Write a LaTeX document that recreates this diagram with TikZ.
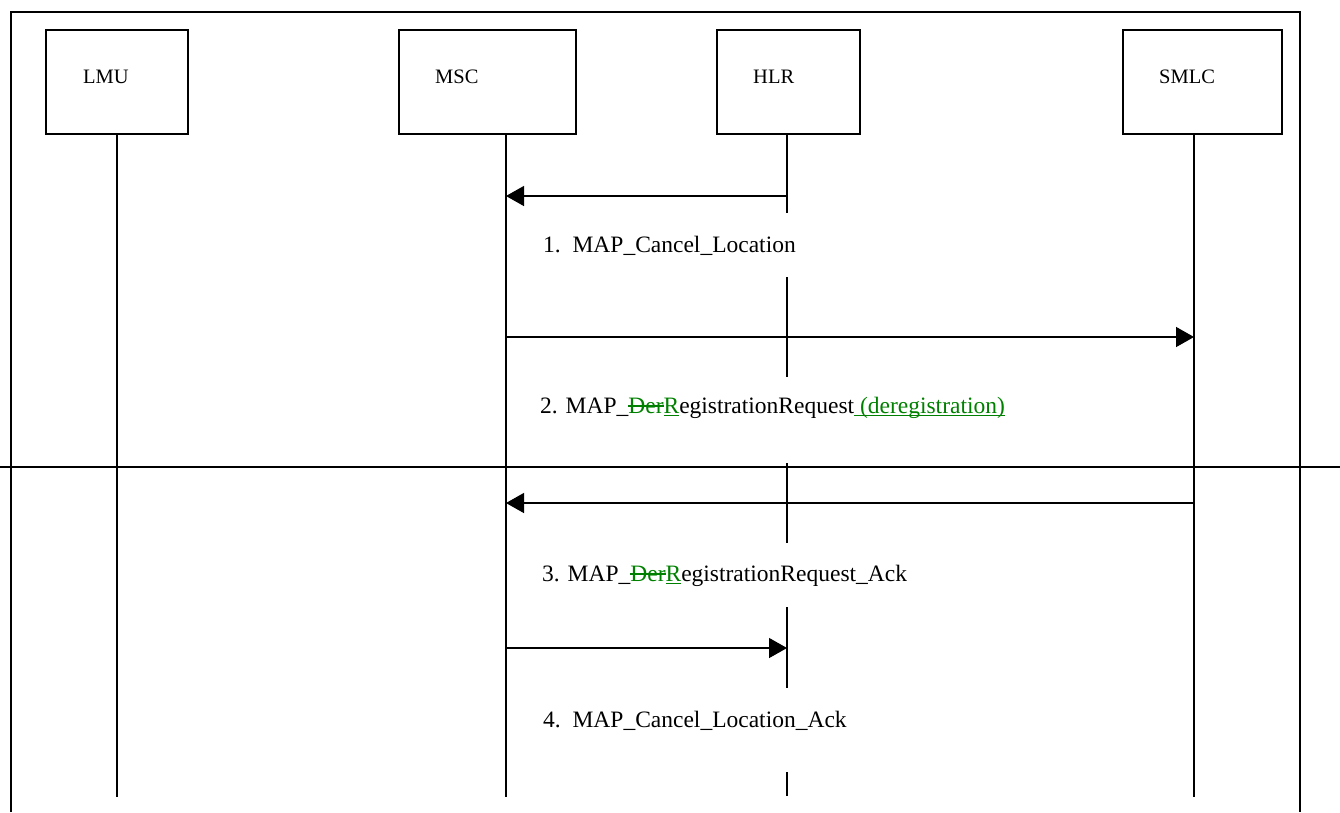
\documentclass[tikz,border=0pt]{standalone}
\usepackage{fontspec}
\setmainfont{Liberation Serif}
\usetikzlibrary{arrows.meta,calc}
\definecolor{chgreen}{RGB}{0,128,0}
\tikzset{
  entity/.style={draw=black, line width=1.6pt, minimum width=#1, minimum height=104pt, inner sep=0pt},
  entity/.default=142pt,
  enttxt/.style={font=\fontsize{20.5}{24}\selectfont, anchor=base west, inner sep=0pt},
  life/.style={line width=1.4pt},
  frameline/.style={line width=1.8pt},
  msg/.style={-{Triangle[length=18pt,width=20pt]}, line width=1.4pt},
  msgtxt/.style={font=\fontsize{23.5}{28}\selectfont, anchor=base west, inner sep=0pt},
}
\newsavebox{\chgbox}
\newcommand{\chg}[1]{\textcolor{chgreen}{#1}}
\newcommand{\strk}[1]{\sbox{\chgbox}{#1}\rlap{\raisebox{0.26em}{\rule{\wd\chgbox}{1.5pt}}}\usebox{\chgbox}}
\newcommand{\undl}[1]{\sbox{\chgbox}{#1}\rlap{\raisebox{-3pt}{\rule{\wd\chgbox}{1.5pt}}}\usebox{\chgbox}}

\begin{document}
\begin{tikzpicture}[x=1pt, y=-1pt]
  \useasboundingbox (0,0) rectangle (1340,812);

  %% ---- frame and divider ----
  \draw[frameline] (11,812) -- (11,12) -- (1300,12) -- (1300,812);
  \draw[frameline] (0,467) -- (1340,467);

  %% ---- entities ----
  \node[entity]        (lmu)  at (117,82)    {};
  \node[entity=177pt]  (msc)  at (487.5,82)  {};
  \node[entity=143pt]  (hlr)  at (788.5,82)  {};
  \node[entity=159pt]  (smlc) at (1202.5,82) {};

  \node[enttxt] (lmulbl)  at (83,83)   {LMU};
  \node[enttxt] (msclbl)  at (435,83)  {MSC};
  \node[enttxt] (hlrlbl)  at (753,83)  {HLR};
  \node[enttxt] (smlclbl) at (1159,83) {SMLC};

  %% ---- lifelines ----
  \coordinate (lmutop)  at (lmu.south);
  \coordinate (msctop)  at (506,134);
  \coordinate (hlrtop)  at (787,134);
  \coordinate (smlctop) at (1194,134);
  \foreach \e in {lmu, msc, smlc}
    \draw[life] (\e top) -- (\e top |- 0,797);
  %% HLR lifeline is broken around the labels
  \foreach \a/\b in {134/213, 277/377, 463/543, 607/688, 772/796}
    \draw[life] (hlrtop |- 0,\a) -- (hlrtop |- 0,\b);

  %% ---- messages ----
  \draw[msg] (hlrtop |- 0,196)  -- (msctop |- 0,196);
  \node[msgtxt] (m1) at (543,252) {1.\ \ MAP\_Cancel\_Location};

  \draw[msg] (msctop |- 0,337)  -- (smlctop |- 0,337);
  \node[msgtxt] (m2) at (540,413)
    {2. MAP\_\chg{\strk{Der}\undl{R}}egistrationRequest\chg{\undl{\ (deregistration)}}};

  \draw[msg] (smlctop |- 0,503) -- (msctop |- 0,503);
  \node[msgtxt] (m3) at (542,581)
    {3. MAP\_\chg{\strk{Der}\undl{R}}egistrationRequest\_Ack};

  \draw[msg] (msctop |- 0,648)  -- (hlrtop |- 0,648);
  \node[msgtxt] (m4) at (543,727) {4.\ \ MAP\_Cancel\_Location\_Ack};

\end{tikzpicture}
\end{document}
